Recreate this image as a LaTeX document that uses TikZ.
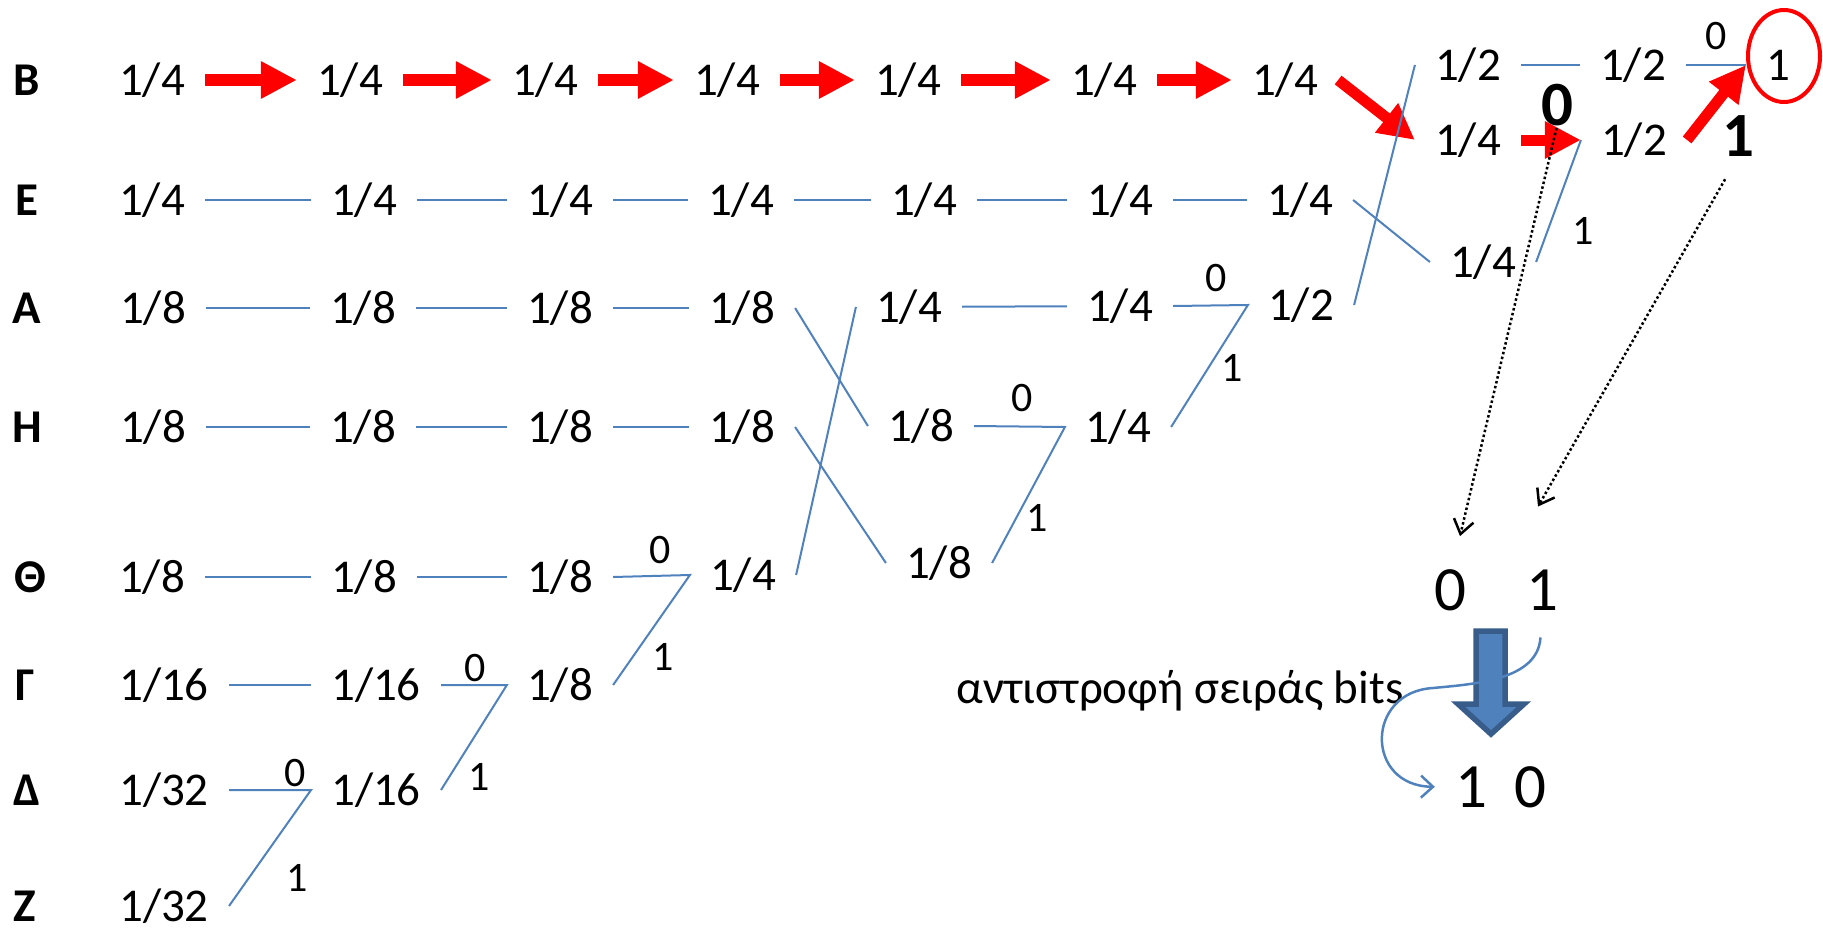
\documentclass[tikz,border=0pt]{standalone}
\usepackage{fontspec}
\setmainfont{Carlito}
\usetikzlibrary{arrows.meta}
\definecolor{lineblue}{RGB}{79,129,189}
\definecolor{arrowedge}{RGB}{56,93,138}
\begin{document}
\begin{tikzpicture}[x=1pt,y=-1pt,
    every node/.style={inner xsep=20pt,inner ysep=0pt,font=\fontsize{47}{56}\selectfont},
    lbl/.style={font=\fontsize{47}{56}\selectfont\bfseries},
    bit/.style={inner xsep=0pt,font=\fontsize{42}{50}\selectfont},
    bigbit/.style={inner xsep=0pt,font=\fontsize{63}{75}\selectfont\bfseries},
    res/.style={inner xsep=0pt,font=\fontsize{63}{75}\selectfont},
    edge/.style={draw=lineblue,line width=2pt},
    redarrow/.style={draw=red,line width=11pt,-{Triangle[length=36pt,width=35pt]}},
    dotarrow/.style={black,line width=2.5pt,dash pattern=on 2.5pt off 2.5pt,-{Straight Barb[length=14pt,width=20pt]}},
    curvearrow/.style={draw=lineblue,line width=2.5pt,-{Straight Barb[length=12pt,width=22pt]}}]
\useasboundingbox (0,0) rectangle (1823,934);
% row labels
\node[lbl] (nB) at (27,80) {Β};
\node[lbl] (nE) at (27,200) {Ε};
\node[lbl] (nA) at (27,308) {Α};
\node[lbl] (nH) at (27,427) {Η};
\node[lbl] (nT) at (30,577) {Θ};
\node[lbl] (nG) at (25,685) {Γ};
\node[lbl] (nD) at (27,790) {Δ};
\node[lbl] (nZ) at (25,906) {Ζ};
% B row
\node (b1) at (152,80) {1/4};
\node (b2) at (350,80) {1/4};
\node (b3) at (545,80) {1/4};
\node (b4) at (727,80) {1/4};
\node (b5) at (908,80) {1/4};
\node (b6) at (1104,80) {1/4};
\node (b7) at (1285,80) {1/4};
% E row
\node (e1) at (152,200) {1/4};
\node (e2) at (364,200) {1/4};
\node (e3) at (560,200) {1/4};
\node (e4) at (741,200) {1/4};
\node (e5) at (924,200) {1/4};
\node (e6) at (1120,200) {1/4};
\node (e7) at (1300,200) {1/4};
% A row
\node (a1) at (153,308) {1/8};
\node (a2) at (363,308) {1/8};
\node (a3) at (560,308) {1/8};
\node (a4) at (742,308) {1/8};
\node (a5) at (909,307) {1/4};
\node (a6) at (1120,306) {1/4};
\node (a7) at (1301,305) {1/2};
% H row
\node (h1) at (153,427) {1/8};
\node (h2) at (363,427) {1/8};
\node (h3) at (560,427) {1/8};
\node (h4) at (742,427) {1/8};
\node (h5) at (921,426) {1/8};
\node (h6) at (1118,427) {1/4};
\node (l5) at (939,563) {1/8};
% Theta, Gamma, Delta, Z rows
\node (t1) at (152,577) {1/8};
\node (t2) at (364,577) {1/8};
\node (t3) at (560,577) {1/8};
\node (t4) at (743,575) {1/4};
\node (g1) at (164,685) {1/16};
\node (g2) at (376,685) {1/16};
\node (g3) at (560,685) {1/8};
\node (d1) at (164,790) {1/32};
\node (d2) at (376,790) {1/16};
\node (z1) at (164,906) {1/32};
% last columns
\node (c8a) at (1468,65) {1/2};
\node (c8b) at (1468,140) {1/4};
\node (c8c) at (1483,262) {1/4};
\node (c9a) at (1633,65) {1/2};
\node (c9b) at (1634,140) {1/2};
\node (root) at (1778,65) {1};
\draw[red,line width=4pt] (1784,56) ellipse [x radius=36,y radius=46];

% red path
\draw[redarrow] (b1) -- (b2);
\draw[redarrow] (b2) -- (b3);
\draw[redarrow] (b3) -- (b4);
\draw[redarrow] (b4) -- (b5);
\draw[redarrow] (b5) -- (b6);
\draw[redarrow] (b6) -- (b7);
\draw[redarrow] (b7.east) -- (c8b.west);
\draw[redarrow] (c8b.east) -- (c9b.west);
\draw[redarrow] (c9b.east) -- (root.west);

% blue lines
\draw[edge] (e1) -- (e2) (e2) -- (e3) (e3) -- (e4) (e4) -- (e5) (e5) -- (e6) (e6) -- (e7);
\draw[edge] (e7.east) -- (c8c.west);
\draw[edge] (a1) -- (a2) (a2) -- (a3) (a3) -- (a4);
\draw[edge] (h1) -- (h2) (h2) -- (h3) (h3) -- (h4);
\draw[edge] (t1) -- (t2) (t2) -- (t3);
\draw[edge] (g1) -- (g2);
\draw[edge] (a4.east) -- (h5.west);
\draw[edge] (h4.east) -- (l5.west);
\draw[edge] (t4.east) -- (a5.west);
\draw[edge] (a5) -- (a6);
\draw[edge] (a7.east) -- (c8a.west);
\draw[edge] (c8a) -- (c9a);
\draw[edge] (c9a.east) -- (root.west);
% merges
\draw[edge] (d1.east) -- (d2.west) -- (z1.east);
\draw[edge] (g2.east) -- (g3.west) -- (d2.east);
\draw[edge] (t3.east) -- (t4.west) -- (g3.east);
\draw[edge] (h5.east) -- (h6.west) -- (l5.east);
\draw[edge] (a6.east) -- (a7.west) -- (h6.east);
\draw[edge] (c9b.west) -- (c8c.east);

% bit labels
\node[bit] (z0d) at (295,773) {0};
\node[bit] (o1d) at (297,878) {1};
\node[bit] (z0g) at (475,668) {0};
\node[bit] (o1g) at (479,777) {1};
\node[bit] (z0t) at (660,550) {0};
\node[bit] (o1t) at (663,657) {1};
\node[bit] (z0h) at (1022,398) {0};
\node[bit] (o1h) at (1037,518) {1};
\node[bit] (z0a) at (1216,278) {0};
\node[bit] (o1a) at (1232,368) {1};
\node[bit] (o1c) at (1583,231) {1};
\node[bit] (z0c) at (1716,36) {0};
\node[bigbit] (bz) at (1557,105) {0};
\node[bigbit] (bo) at (1738,136) {1};

% code reversal
\node[res] (bot0) at (1450,590) {0};
\node[res] (bot1) at (1542,590) {1};
\node[res] (rev1) at (1471,787) {1};
\node[res] (rev0) at (1530,787) {0};
\node[inner xsep=0pt] (note) at (1180,691) {αντιστροφή σειράς bits};
\draw[dotarrow,shorten <=2pt] (bz.south) -- ([xshift=10pt,yshift=33pt]bot0.north);
\draw[dotarrow,shorten <=26pt] (bo.south) -- ([xshift=-4pt,yshift=63pt]bot1.north);
\filldraw[fill=lineblue,draw=arrowedge,line width=5.5pt] (1476,631) -- (1505,631) -- (1505,704) -- (1524,704) -- (1491,734) -- (1458,704) -- (1476,704) -- cycle;
\draw[curvearrow,shorten <=27pt,shorten >=20pt] (bot1.south) .. controls (1538,680) and (1475,684) .. (1433,688) .. controls (1365,692) and (1365,786) .. (rev1.west);
\end{tikzpicture}
\end{document}
